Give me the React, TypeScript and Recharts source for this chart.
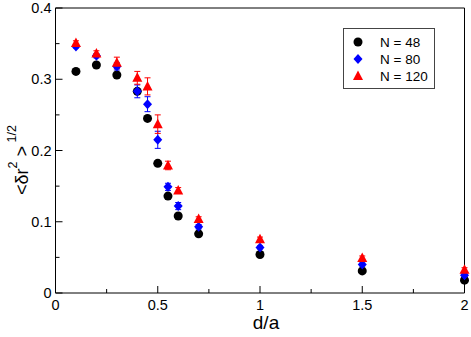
import React from 'react';
import {
  ScatterChart,
  Scatter,
  XAxis,
  YAxis,
  ErrorBar,
  Legend,
} from 'recharts';

// d/a values shared by all three series
const dValues = [0.1, 0.2, 0.3, 0.4, 0.45, 0.5, 0.55, 0.6, 0.7, 1, 1.5, 2];

const n48 = [0.311, 0.32, 0.306, 0.283, 0.245, 0.182, 0.136, 0.108, 0.083, 0.054, 0.031, 0.018];
const n80 = [0.346, 0.333, 0.318, 0.283, 0.265, 0.215, 0.149, 0.122, 0.093, 0.064, 0.04, 0.025];
const n80Err = [0.002, 0.003, 0.005, 0.009, 0.0105, 0.012, 0.005, 0.005, 0.003, 0.002, 0.002, 0.002];
const n120 = [0.351, 0.336, 0.323, 0.302, 0.29, 0.237, 0.179, 0.144, 0.104, 0.0755, 0.049, 0.0325];
const n120Err = [0.003, 0.004, 0.008, 0.009, 0.012, 0.013, 0.006, 0.004, 0.003, 0.003, 0.003, 0.003];

const xTicks = [0, 0.25, 0.5, 0.75, 1, 1.25, 1.5, 1.75, 2];
const xMajor = [0, 0.5, 1, 1.5, 2];
const yTicks = [0, 0.05, 0.1, 0.15, 0.2, 0.25, 0.3, 0.35, 0.4];
const yMajor = [0, 0.1, 0.2, 0.3, 0.4];

const seriesNames = ['N = 48', 'N = 80', 'N = 120'];

const FONT = '"Liberation Sans", Arial, sans-serif';

const d48 = dValues.map((d, i) => ({ x: d, y: n48[i] }));
const d80 = dValues.map((d, i) => ({ x: d, y: n80[i], err: n80Err[i] }));
const d120 = dValues.map((d, i) => ({ x: d, y: n120[i], err: n120Err[i] }));

const isMajor = (list: number[], v: number) => list.some((m) => Math.abs(m - v) < 1e-9);

const Circle = ({ cx, cy }: any) => <circle cx={cx} cy={cy} r={4.5} fill="#000" />;
const Diamond = ({ cx, cy }: any) => (
  <path d={`M${cx},${cy - 5}L${cx + 4.5},${cy}L${cx},${cy + 5}L${cx - 4.5},${cy}Z`} fill="#0000ff" />
);
const Triangle = ({ cx, cy }: any) => (
  <path d={`M${cx},${cy - 5.5}L${cx + 5},${cy + 4}L${cx - 5},${cy + 4}Z`} fill="#ff0000" />
);

const XTick = ({ x, y, payload, top }: any) => {
  const major = isMajor(xMajor, payload.value);
  const len = major ? 7 : 4;
  const dir = top ? 1 : -1;
  return (
    <g>
      <line x1={x} x2={x} y1={y} y2={y + dir * len} stroke="#000" />
      {!top && major && (
        <text x={x} y={y + 16.5} textAnchor="middle" fontSize={14.5} fontFamily={FONT} fill="#000">
          {String(payload.value)}
        </text>
      )}
    </g>
  );
};

const YTick = ({ x, y, payload, right }: any) => {
  const major = isMajor(yMajor, payload.value);
  const len = major ? 7 : 4;
  const dir = right ? -1 : 1;
  return (
    <g>
      <line x1={x} x2={x + dir * len} y1={y} y2={y} stroke="#000" />
      {!right && major && (
        <text x={x - 4} y={y + 5} textAnchor="end" fontSize={14.5} fontFamily={FONT} fill="#000">
          {String(payload.value)}
        </text>
      )}
    </g>
  );
};

const LegendBox = () => (
  <svg width={92} height={61} style={{ display: 'block' }}>
    <rect x={0.5} y={0.5} width={91} height={60} fill="#fff" stroke="#444" />
    <Circle cx={15} cy={14} />
    <Diamond cx={15} cy={31} />
    <Triangle cx={15} cy={48} />
    {seriesNames.map((name, i) => (
      <text key={name} x={37} y={19 + i * 17} fontSize={13.5} fontFamily={FONT} fill="#000">
        {name}
      </text>
    ))}
  </svg>
);

const YTitle = () => (
  <text transform="translate(28,160) rotate(-90)" textAnchor="middle" fontFamily={FONT} fill="#000" fontSize={18}>
    {'<δr'}
    <tspan fontSize={12.5} dy={-11}>2</tspan>
    <tspan dy={11}>{' >'}</tspan>
    <tspan fontSize={12.5} dy={-12}>{' 1/2'}</tspan>
  </text>
);

export default function App() {
  return (
    <div style={{ position: 'absolute', left: 0, top: 0, width: 471, height: 337, background: '#fff' }}>
      <ScatterChart width={471} height={337} margin={{ top: 7, right: 5.5, bottom: 43, left: 54.5 }}>
        <XAxis
          xAxisId="b"
          dataKey="x"
          type="number"
          domain={[0, 2]}
          ticks={xTicks}
          interval={0}
          tickSize={0}
          tickMargin={0}
          tickLine={false}
          height={1}
          axisLine={{ stroke: '#000' }}
          tick={<XTick />}
          label={{ value: 'd/a', position: 'insideBottom', dy: 40, dx: 6, fontSize: 19, fontFamily: FONT, fill: '#000' }}
        />
        <XAxis
          xAxisId="t"
          orientation="top"
          type="number"
          domain={[0, 2]}
          ticks={xTicks}
          interval={0}
          tickSize={0}
          tickMargin={0}
          tickLine={false}
          height={1}
          axisLine={{ stroke: '#000' }}
          tick={<XTick top />}
        />
        <YAxis
          yAxisId="l"
          dataKey="y"
          type="number"
          domain={[0, 0.4]}
          ticks={yTicks}
          interval={0}
          tickSize={0}
          tickMargin={0}
          tickLine={false}
          width={1}
          axisLine={{ stroke: '#000' }}
          tick={<YTick />}
          label={{ content: () => <YTitle /> }}
        />
        <YAxis
          yAxisId="r"
          orientation="right"
          type="number"
          domain={[0, 0.4]}
          ticks={yTicks}
          interval={0}
          tickSize={0}
          tickMargin={0}
          tickLine={false}
          width={1}
          axisLine={{ stroke: '#000' }}
          tick={<YTick right />}
        />
        <Legend
          layout="vertical"
          align="center"
          verticalAlign="middle"
          content={() => <LegendBox />}
          wrapperStyle={{ left: 343, top: 28, width: 92, height: 61 }}
        />
        <Scatter name={seriesNames[0]} data={d48} xAxisId="b" yAxisId="l" shape={<Circle />} isAnimationActive={false} />
        <Scatter name={seriesNames[1]} data={d80} xAxisId="b" yAxisId="l" shape={<Diamond />} isAnimationActive={false}>
          <ErrorBar dataKey="err" direction="y" width={3} stroke="#0000ff" strokeWidth={1} />
        </Scatter>
        <Scatter name={seriesNames[2]} data={d120} xAxisId="b" yAxisId="l" shape={<Triangle />} isAnimationActive={false}>
          <ErrorBar dataKey="err" direction="y" width={3} stroke="#ff0000" strokeWidth={1} />
        </Scatter>
      </ScatterChart>
    </div>
  );
}
